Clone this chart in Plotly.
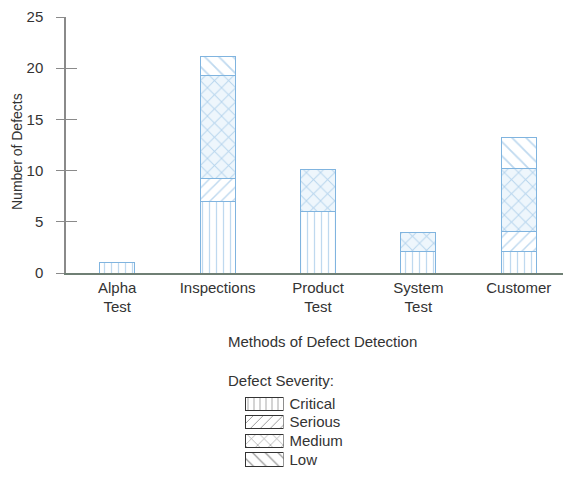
import plotly.graph_objects as go

W, H = 571, 481
OFF = 8  # page body margin shifts the figure by this much

methods = ['Alpha<br>Test', 'Inspections', 'Product<br>Test', 'System<br>Test', 'Customer']
severities = ['Critical', 'Serious', 'Medium', 'Low']

critical = [1, 7, 6, 2.1, 2.1]
serious = [0, 2.2, 0, 0, 2.0]
medium = [0, 10.1, 4.1, 1.9, 6.1]
low = [0, 1.8, 0, 0, 3.0]

y_ticks = [0, 5, 10, 15, 20, 25]

values = {'Critical': critical, 'Serious': serious, 'Medium': medium, 'Low': low}
shapes = {'Critical': '|', 'Serious': '/', 'Medium': 'x', 'Low': '\\'}
sizes = {'Critical': 7, 'Serious': 8, 'Medium': 10, 'Low': 10}
fills = {'Critical': 'white', 'Serious': 'white', 'Medium': '#eef6fc', 'Low': 'white'}

BAR_BLUE = '#80b4df'
TEXT = '#333333'
FONT = 'Liberation Sans, Arial, sans-serif'


def px_x(x):
    return (x - OFF) / W


def px_y(y):
    return 1 - (y - OFF) / H


fig = go.Figure()

for sev in severities:
    fig.add_trace(go.Bar(
        x=methods, y=values[sev], name=sev, width=0.35,
        marker=dict(
            color=fills[sev],
            line=dict(color=BAR_BLUE, width=1),
            pattern=dict(shape=shapes[sev], fgcolor=BAR_BLUE, size=sizes[sev],
                         solidity=0.18, fillmode='overlay'),
        ),
        showlegend=False,
        xaxis='x', yaxis='y',
    ))

# empty trace so the overlay axis (inner half of the tick marks) gets drawn
fig.add_trace(go.Scatter(x=[None], y=[None], xaxis='x', yaxis='y2',
                         showlegend=False, hoverinfo='skip'))

# legend drawn as a small subplot of swatches
for sev in severities:
    fig.add_trace(go.Bar(
        x=[1], y=[sev], orientation='h', name=sev,
        marker=dict(
            color='white',
            line=dict(color='#333333', width=1),
            pattern=dict(shape=shapes[sev], fgcolor='#333333', size=sizes[sev] - 1,
                         solidity=0.14, fillmode='overlay'),
        ),
        showlegend=False,
        xaxis='x3', yaxis='y3',
    ))

fig.update_layout(
    width=W, height=H,
    margin=dict(l=0, r=0, t=0, b=0),
    paper_bgcolor='white', plot_bgcolor='rgba(0,0,0,0)',
    barmode='stack', bargap=0.3,
    font=dict(family=FONT, size=15, color=TEXT),
    xaxis=dict(
        domain=[px_x(66), 1], anchor='y', range=[-0.51, 4.6],
        showline=True, linecolor='#6f7f74', linewidth=1.5,
        ticks='', showgrid=False, zeroline=False,
        tickfont=dict(size=15, color=TEXT), automargin=False,
    ),
    yaxis=dict(
        domain=[px_y(273), px_y(17)], anchor='x', range=[0, 25], tickvals=y_ticks,
        showline=True, linecolor='#8a8a8a', linewidth=1.5,
        ticks='outside', ticklen=8, tickcolor='#8a8a8a', tickwidth=1.2,
        showgrid=False, zeroline=False, ticklabelstandoff=10,
        ticklabeloverflow='allow',
        tickfont=dict(size=15, color=TEXT), automargin=False,
    ),
    yaxis2=dict(
        overlaying='y', anchor='x', side='left', range=[0, 25], tickvals=y_ticks,
        ticks='inside', ticklen=11, tickcolor='#8a8a8a', tickwidth=1.2,
        showticklabels=False, showgrid=False, zeroline=False, showline=False,
    ),
    xaxis3=dict(
        domain=[px_x(245), px_x(283.5)], anchor='y3', range=[0, 1],
        visible=False, fixedrange=True,
    ),
    yaxis3=dict(
        domain=[px_y(468.8), px_y(394.2)], anchor='x3',
        categoryorder='array', categoryarray=severities, autorange='reversed',
        side='right', showline=False, showgrid=False, zeroline=False, ticks='',
        ticklabelstandoff=5, tickfont=dict(size=15, color=TEXT), automargin=False,
    ),
    annotations=[
        dict(text='Methods of Defect Detection', x=px_x(322), y=px_y(341),
             xref='paper', yref='paper', showarrow=False,
             xanchor='center', yanchor='middle',
             font=dict(size=15, color=TEXT)),
        dict(text='Number of Defects', x=px_x(17), y=px_y(152),
             xref='paper', yref='paper', showarrow=False, textangle=-90,
             xanchor='center', yanchor='middle',
             font=dict(size=14, color=TEXT)),
        dict(text='Defect Severity:', x=px_x(226), y=px_y(380),
             xref='paper', yref='paper', showarrow=False,
             xanchor='left', yanchor='middle',
             font=dict(size=15, color=TEXT)),
    ],
)

fig.write_html("out.html")
